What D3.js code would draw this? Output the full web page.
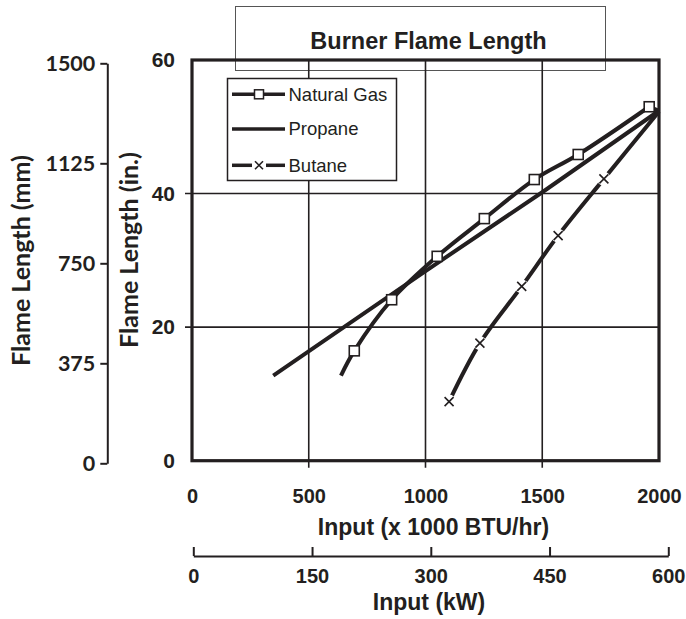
<!DOCTYPE html>
<html>
<head>
<meta charset="utf-8">
<script src="https://cdn.jsdelivr.net/npm/d3@7"></script>
<style>
  html, body { margin: 0; padding: 0; background: #fff; }
  svg { display: block; }
</style>
</head>
<body>
<div id="chart"></div>
<script>
// Values
const input_ticks = [0, 500, 1000, 1500, 2000];
const kw_ticks = [0, 150, 300, 450, 600];
const inch_ticks = [0, 20, 40, 60];
const mm_ticks = [0, 375, 750, 1125, 1500];

const gas_x = [638, 695, 855, 1050, 1252, 1466, 1654, 1958, 2000];
const gas_y = [12.75, 16.45, 24.1, 30.6, 36.25, 42.1, 45.85, 53.0, 52.4];
const gas_marked = [false, true, true, true, true, true, true, true, false];

const propane_x = [348, 1000, 1500, 2000];
const propane_y = [12.75, 28.4, 40.2, 52.4];

const butane_x = [1101, 1233, 1412, 1568, 1764, 2000];
const butane_y = [8.85, 17.6, 26.1, 33.7, 42.2, 52.3];
const butane_marked = [true, true, true, true, true, false];

const series_names = ["Natural Gas", "Propane", "Butane"];

// Standard SVG setup stuff
const w = 686;
const h = 619;
const ink = "#231f20";
const helv = "'Liberation Sans', Arial, sans-serif";
const gill = "Lato, 'Open Sans', sans-serif";
const plain = d3.format("d");

const svg = d3.select("#chart")
  .append("svg")
  .attr("width", w)
  .attr("height", h)
  .attr("viewBox", [0, 0, w, h]);

const x = d3.scaleLinear().domain([0, 2000]).range([192, 659]);
const y = d3.scaleLinear().domain([0, 60]).range([460.7, 60]);
const x_kw = d3.scaleLinear().domain([0, 600]).range([193.3, 668.3]);
const y_mm = d3.scaleLinear().domain([0, 1500]).range([463.3, 63.3]);

const to_points = (xs, ys) => xs.map((v, i) => ({ x: v, y: ys[i], i }));
const gas = to_points(gas_x, gas_y);
const propane = to_points(propane_x, propane_y);
const butane = to_points(butane_x, butane_y);

// Title box sits behind the plot
svg.append("rect")
  .attr("x", 235.5).attr("y", 6.5)
  .attr("width", 370).attr("height", 64)
  .attr("fill", "none")
  .attr("stroke", "#555")
  .attr("stroke-width", 1);

svg.append("text")
  .attr("x", 428.5).attr("y", 49)
  .attr("text-anchor", "middle")
  .attr("font-family", helv)
  .attr("font-weight", "bold")
  .attr("font-size", 23.5)
  .attr("fill", ink)
  .text("Burner Flame Length");

// Grid lines, poking out a little past the frame
const grid = svg.append("g").attr("stroke", ink).attr("stroke-width", 1.6);
grid.selectAll("line.v")
  .data(input_ticks.filter((d) => d > 0 && d < 2000))
  .join("line")
  .attr("class", "v")
  .attr("x1", (d) => x(d)).attr("x2", (d) => x(d))
  .attr("y1", y(60)).attr("y2", y(0) + 7);
grid.selectAll("line.hz")
  .data(inch_ticks.filter((d) => d > 0 && d < 60))
  .join("line")
  .attr("class", "hz")
  .attr("x1", x(0) - 7).attr("x2", x(2000))
  .attr("y1", (d) => y(d)).attr("y2", (d) => y(d));

// Main bottom axis labels (BTU/hr)
const x_axis = svg.append("g")
  .attr("transform", `translate(0,${y(0)})`)
  .call(d3.axisBottom(x).tickValues(input_ticks).tickFormat(plain).tickSize(0).tickPadding(27.8));
x_axis.select("path.domain").remove();
x_axis.selectAll("text")
  .attr("font-family", helv).attr("font-weight", "bold")
  .attr("font-size", 20).attr("fill", ink);

svg.append("text")
  .attr("x", 433.5).attr("y", 535)
  .attr("text-anchor", "middle")
  .attr("font-family", helv).attr("font-weight", "bold")
  .attr("font-size", 23).attr("fill", ink)
  .text("Input (x 1000 BTU/hr)");

// Secondary kW axis, ticks pointing up
const kw_axis = svg.append("g")
  .attr("transform", "translate(0,556)")
  .call(d3.axisTop(x_kw).tickValues(kw_ticks).tickFormat(plain).tickSizeInner(9).tickSizeOuter(0).tickPadding(0));
kw_axis.select("path.domain").attr("stroke", ink).attr("stroke-width", 2);
kw_axis.selectAll("line").attr("stroke", ink).attr("stroke-width", 2);
kw_axis.selectAll("text")
  .attr("y", 26.7).attr("dy", null)
  .attr("font-family", helv).attr("font-weight", "bold")
  .attr("font-size", 20).attr("fill", ink);

svg.append("text")
  .attr("x", 429).attr("y", 610)
  .attr("text-anchor", "middle")
  .attr("font-family", helv).attr("font-weight", "bold")
  .attr("font-size", 23).attr("fill", ink)
  .text("Input (kW)");

// Inner left axis (inches)
const y_axis = svg.append("g")
  .attr("transform", `translate(${x(0)},0)`)
  .call(d3.axisLeft(y).tickValues(inch_ticks).tickSize(0).tickPadding(17));
y_axis.select("path.domain").remove();
y_axis.selectAll("text")
  .attr("font-family", helv).attr("font-weight", "bold")
  .attr("font-size", 21).attr("fill", ink);

svg.append("text")
  .attr("transform", "translate(138,250) rotate(-90)")
  .attr("text-anchor", "middle")
  .attr("font-family", gill).attr("font-weight", "bold")
  .attr("font-size", 25).attr("fill", ink)
  .text("Flame Length (in.)");

// Outer left axis (mm)
const mm_axis = svg.append("g")
  .attr("transform", "translate(107.3,0)")
  .call(d3.axisLeft(y_mm).tickValues(mm_ticks).tickFormat(plain).tickSizeInner(7).tickSizeOuter(0).tickPadding(5));
mm_axis.select("path.domain").attr("stroke", ink).attr("stroke-width", 2);
mm_axis.selectAll("line").attr("stroke", ink).attr("stroke-width", 2);
mm_axis.selectAll("text")
  .attr("font-family", gill).attr("font-weight", "bold")
  .attr("font-size", 21.5).attr("fill", ink);

svg.append("text")
  .attr("transform", "translate(30,260.5) rotate(-90)")
  .attr("text-anchor", "middle")
  .attr("font-family", gill).attr("font-weight", "bold")
  .attr("font-size", 25).attr("fill", ink)
  .text("Flame Length (mm)");

// The three curves
const smooth = d3.line()
  .x((d) => x(d.x))
  .y((d) => y(d.y))
  .curve(d3.curveCatmullRom.alpha(0.5));
const straight = d3.line()
  .x((d) => x(d.x))
  .y((d) => y(d.y));

const curves = svg.append("g")
  .attr("fill", "none")
  .attr("stroke", ink)
  .attr("stroke-width", 4)
  .attr("stroke-linecap", "butt")
  .attr("stroke-linejoin", "round");
curves.append("path").attr("d", straight(propane));
// gas is smooth up to its last marker, then runs straight into the corner
const last_mark = gas_marked.lastIndexOf(true);
curves.append("path").attr("d", smooth(gas.slice(0, last_mark + 1)));
curves.append("path").attr("d", straight(gas.slice(last_mark)));
curves.append("path").attr("d", smooth(butane));

// Cross markers break the line behind them
const cross = (s) => `M${-s},${-s}L${s},${s}M${-s},${s}L${s},${-s}`;
const crosses = svg.append("g")
  .selectAll("g")
  .data(butane.filter((d) => butane_marked[d.i]))
  .join("g")
  .attr("transform", (d) => `translate(${x(d.x)},${y(d.y)})`);
crosses.append("circle").attr("r", 7).attr("fill", "#fff");
crosses.append("path")
  .attr("d", cross(4.5))
  .attr("stroke", ink).attr("stroke-width", 1.6).attr("fill", "none");

svg.append("g")
  .selectAll("rect")
  .data(gas.filter((d) => gas_marked[d.i]))
  .join("rect")
  .attr("x", (d) => x(d.x) - 5)
  .attr("y", (d) => y(d.y) - 5)
  .attr("width", 10).attr("height", 10)
  .attr("fill", "#fff")
  .attr("stroke", ink)
  .attr("stroke-width", 1.6);

// Plot frame on top
svg.append("rect")
  .attr("x", x(0)).attr("y", y(60))
  .attr("width", x(2000) - x(0))
  .attr("height", y(0) - y(60))
  .attr("fill", "none")
  .attr("stroke", ink)
  .attr("stroke-width", 3.2);

// Legend
const legend = svg.append("g");
legend.append("rect")
  .attr("x", 227.5).attr("y", 78.5)
  .attr("width", 169).attr("height", 102)
  .attr("fill", "#fff")
  .attr("stroke", ink)
  .attr("stroke-width", 1.5);

const legend_y = [94.3, 129, 165.3];
const rows = legend.selectAll("g")
  .data(series_names)
  .join("g")
  .attr("transform", (d, i) => `translate(0,${legend_y[i]})`);

rows.append("text")
  .attr("x", 288.5).attr("dy", "0.35em")
  .attr("font-family", helv)
  .attr("font-size", 18.5)
  .attr("fill", ink)
  .text((d) => d);

rows.each(function (d, i) {
  const row = d3.select(this);
  if (i === 2) {
    row.append("line").attr("x1", 232).attr("x2", 252);
    row.append("line").attr("x1", 266).attr("x2", 285);
    row.append("path").attr("d", cross(4)).attr("transform", "translate(259,0)")
      .attr("fill", "none").attr("stroke-width", 1.6);
  } else {
    row.append("line").attr("x1", 232).attr("x2", 285);
  }
  row.selectAll("line").attr("stroke-width", 3.5);
  row.selectAll("line, path").attr("stroke", ink);
  if (i === 0) {
    row.append("rect")
      .attr("x", 254.5).attr("y", -4.5)
      .attr("width", 9).attr("height", 9)
      .attr("fill", "#fff").attr("stroke", ink).attr("stroke-width", 1.5);
  }
});
</script>
</body>
</html>
